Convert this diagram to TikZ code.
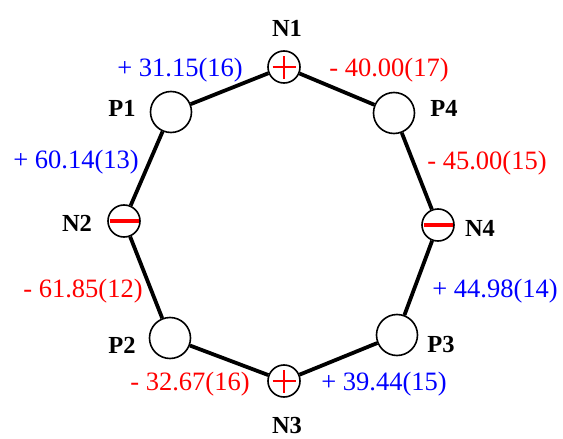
\documentclass[tikz,border=0pt]{standalone}
\usepackage{fontspec}
\setmainfont{Liberation Serif}
\begin{document}
\begin{tikzpicture}[x=1pt,y=-1pt,
  conn/.style={line width=3.8pt},
  ring/.style={circle,draw,line width=1.6pt,minimum size=41pt,inner sep=0pt},
  pole/.style={circle,draw,line width=1.6pt,minimum size=32pt,inner sep=0pt},
  sign/.style={draw=red,line width=2.8pt},
  lbl/.style={font=\fontsize{24.5}{24.5}\selectfont\bfseries,inner sep=0pt},
  posv/.style={text=blue,font=\fontsize{26.5}{26.5}\selectfont,inner sep=0pt},
  negv/.style={text=red,font=\fontsize{26.5}{26.5}\selectfont,inner sep=0pt}]
\useasboundingbox (0,0) rectangle (563,439);
% nodes
\node[pole] (N1) at (284,67) {};
\node[pole] (N2) at (124,221) {};
\node[pole] (N3) at (284,381) {};
\node[pole] (N4) at (438,225) {};
\node[ring] (P1) at (171,112) {};
\node[ring] (P4) at (394,113) {};
\node[ring] (P2) at (170,338) {};
\node[ring] (P3) at (397,335) {};
% connectors
\draw[conn] (N1) -- (P4);
\draw[conn] (P4) -- (N4);
\draw[conn] (N4) -- (P3);
\draw[conn] (P3) -- (N3);
\draw[conn] (N3) -- (P2);
\draw[conn] (P2) -- (N2);
\draw[conn] (N2) -- (P1);
\draw[conn] (P1) -- (N1);
% signs
\draw[sign] ([xshift=-11.5pt]N1.center) -- ([xshift=11.5pt]N1.center);
\draw[sign] ([yshift=-11.5pt]N1.center) -- ([yshift=11.5pt]N1.center);
\draw[sign] ([xshift=-11.5pt]N3.center) -- ([xshift=11.5pt]N3.center);
\draw[sign] ([yshift=-11.5pt]N3.center) -- ([yshift=11.5pt]N3.center);
\draw[sign,line width=3.2pt] ([xshift=-14.5pt]N2.center) -- ([xshift=14.5pt]N2.center);
\draw[sign,line width=3.2pt] ([xshift=-14.5pt]N4.center) -- ([xshift=14.5pt]N4.center);
% labels
\node[lbl] (lN1) at (287,28) {N1};
\node[lbl] (lN2) at (77,223) {N2};
\node[lbl] (lN3) at (287,426) {N3};
\node[lbl] (lN4) at (480,228) {N4};
\node[lbl] (lP1) at (122,108) {P1};
\node[lbl] (lP4) at (444,108) {P4};
\node[lbl] (lP2) at (122,345) {P2};
\node[lbl] (lP3) at (441,345) {P3};
% values
\node[posv] (v1) at (180,70) {+ 31.15(16)};
\node[negv] (v2) at (389,70) {- 40.00(17)};
\node[posv] (v3) at (76,162) {+ 60.14(13)};
\node[negv] (v4) at (487,163) {- 45.00(15)};
\node[negv] (v5) at (83,291) {- 61.85(12)};
\node[posv] (v6) at (495,291) {+ 44.98(14)};
\node[negv] (v7) at (190,384) {- 32.67(16)};
\node[posv] (v8) at (384,384) {+ 39.44(15)};
\end{tikzpicture}
\end{document}
